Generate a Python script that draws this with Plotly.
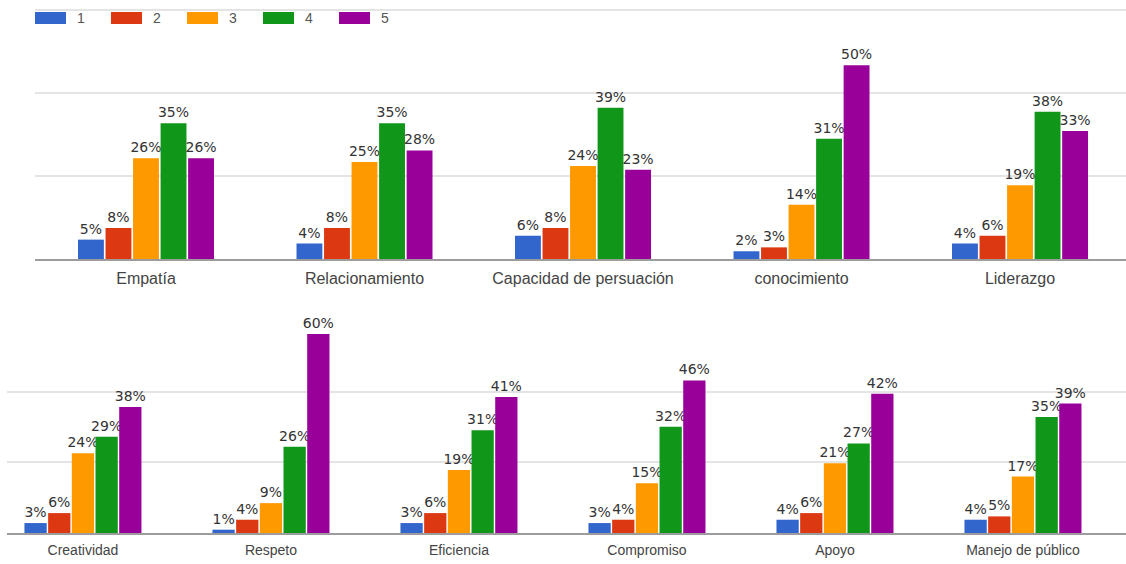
import plotly.graph_objects as go

# Rating levels and their colours
levels = ["1", "2", "3", "4", "5"]
colors = ["#3366cc", "#dc3912", "#ff9900", "#109618", "#990099"]

# Upper group of skills (percent of answers per rating level)
top_skills = ["Empatía", "Relacionamiento", "Capacidad de persuación", "conocimiento", "Liderazgo"]
top_level1 = [5, 4, 6, 2, 4]
top_level2 = [8, 8, 8, 3, 6]
top_level3 = [26, 25, 24, 14, 19]
top_level4 = [35, 35, 39, 31, 38]
top_level5 = [26, 28, 23, 50, 33]

# Lower group of skills
bottom_skills = ["Creatividad", "Respeto", "Eficiencia", "Compromiso", "Apoyo", "Manejo de público"]
bottom_level1 = [3, 1, 3, 3, 4, 4]
bottom_level2 = [6, 4, 6, 4, 6, 5]
bottom_level3 = [24, 9, 19, 15, 21, 17]
bottom_level4 = [29, 26, 31, 32, 27, 35]
bottom_level5 = [38, 60, 41, 46, 42, 39]

top_series = [top_level1, top_level2, top_level3, top_level4, top_level5]
bottom_series = [bottom_level1, bottom_level2, bottom_level3, bottom_level4, bottom_level5]

W, H = 1126, 564
label_font = dict(family="DejaVu Sans", size=14, color="#333")

fig = go.Figure()
for name, color, vals in zip(levels, colors, top_series):
    fig.add_trace(go.Bar(
        x=top_skills, y=vals, name=name, marker=dict(color=color, line=dict(width=0)),
        texttemplate="%{y}%", textposition="outside", textfont=label_font,
        constraintext="none", cliponaxis=False, showlegend=False,
        xaxis="x", yaxis="y", offsetgroup=name,
    ))
for name, color, vals in zip(levels, colors, bottom_series):
    fig.add_trace(go.Bar(
        x=bottom_skills, y=vals, name=name, marker=dict(color=color, line=dict(width=0)),
        texttemplate="%{y}%", textposition="outside", textfont=label_font,
        constraintext="none", cliponaxis=False, showlegend=False,
        xaxis="x2", yaxis="y2", offsetgroup=name,
    ))

grid = "#e4e4e4"
axis_line = "#9c9c9c"

fig.update_layout(
    width=W, height=H,
    margin=dict(l=0, r=0, t=0, b=0),
    paper_bgcolor="white", plot_bgcolor="white",
    barmode="group", bargap=0.37, bargroupgap=0.06,
    xaxis=dict(domain=[35 / W, 1], range=[-0.508, 4.485], anchor="y",
               showgrid=False, showline=True, linecolor=axis_line, linewidth=2,
               ticks="", ticklabelstandoff=4,
               tickfont=dict(family="Liberation Sans", size=16, color="#444")),
    yaxis=dict(domain=[1 - 259 / H, 1 - 9 / H], range=[0, 64.5], tick0=0, dtick=21.4,
               showticklabels=False, gridcolor=grid, gridwidth=2, zeroline=False),
    xaxis2=dict(domain=[7 / W, 1], range=[-0.404, 5.548], anchor="y2",
                showgrid=False, showline=True, linecolor=axis_line, linewidth=2,
                ticks="", ticklabelstandoff=3,
                tickfont=dict(family="Liberation Sans", size=14, color="#444")),
    yaxis2=dict(domain=[1 - 533 / H, 1 - 320 / H], range=[0, 64.2], tick0=0, dtick=21.3,
                showticklabels=False, gridcolor=grid, gridwidth=2, zeroline=False),
)

# Legend row: colour swatch followed by the level name
shapes = []
annotations = []
for i, (name, color) in enumerate(zip(levels, colors)):
    x0 = 35 + 76 * i
    shapes.append(dict(type="rect", xref="paper", yref="paper",
                       x0=x0 / W, x1=(x0 + 31) / W, y0=1 - 24 / H, y1=1 - 12 / H,
                       fillcolor=color, line=dict(width=0), layer="above"))
    annotations.append(dict(xref="paper", yref="paper", x=(x0 + 40) / W, y=1 - 18 / H,
                            text=name, showarrow=False, xanchor="left", yanchor="middle",
                            font=dict(family="Liberation Sans", size=14, color="#555")))
fig.update_layout(shapes=shapes, annotations=annotations)

fig.write_html("out.html")
